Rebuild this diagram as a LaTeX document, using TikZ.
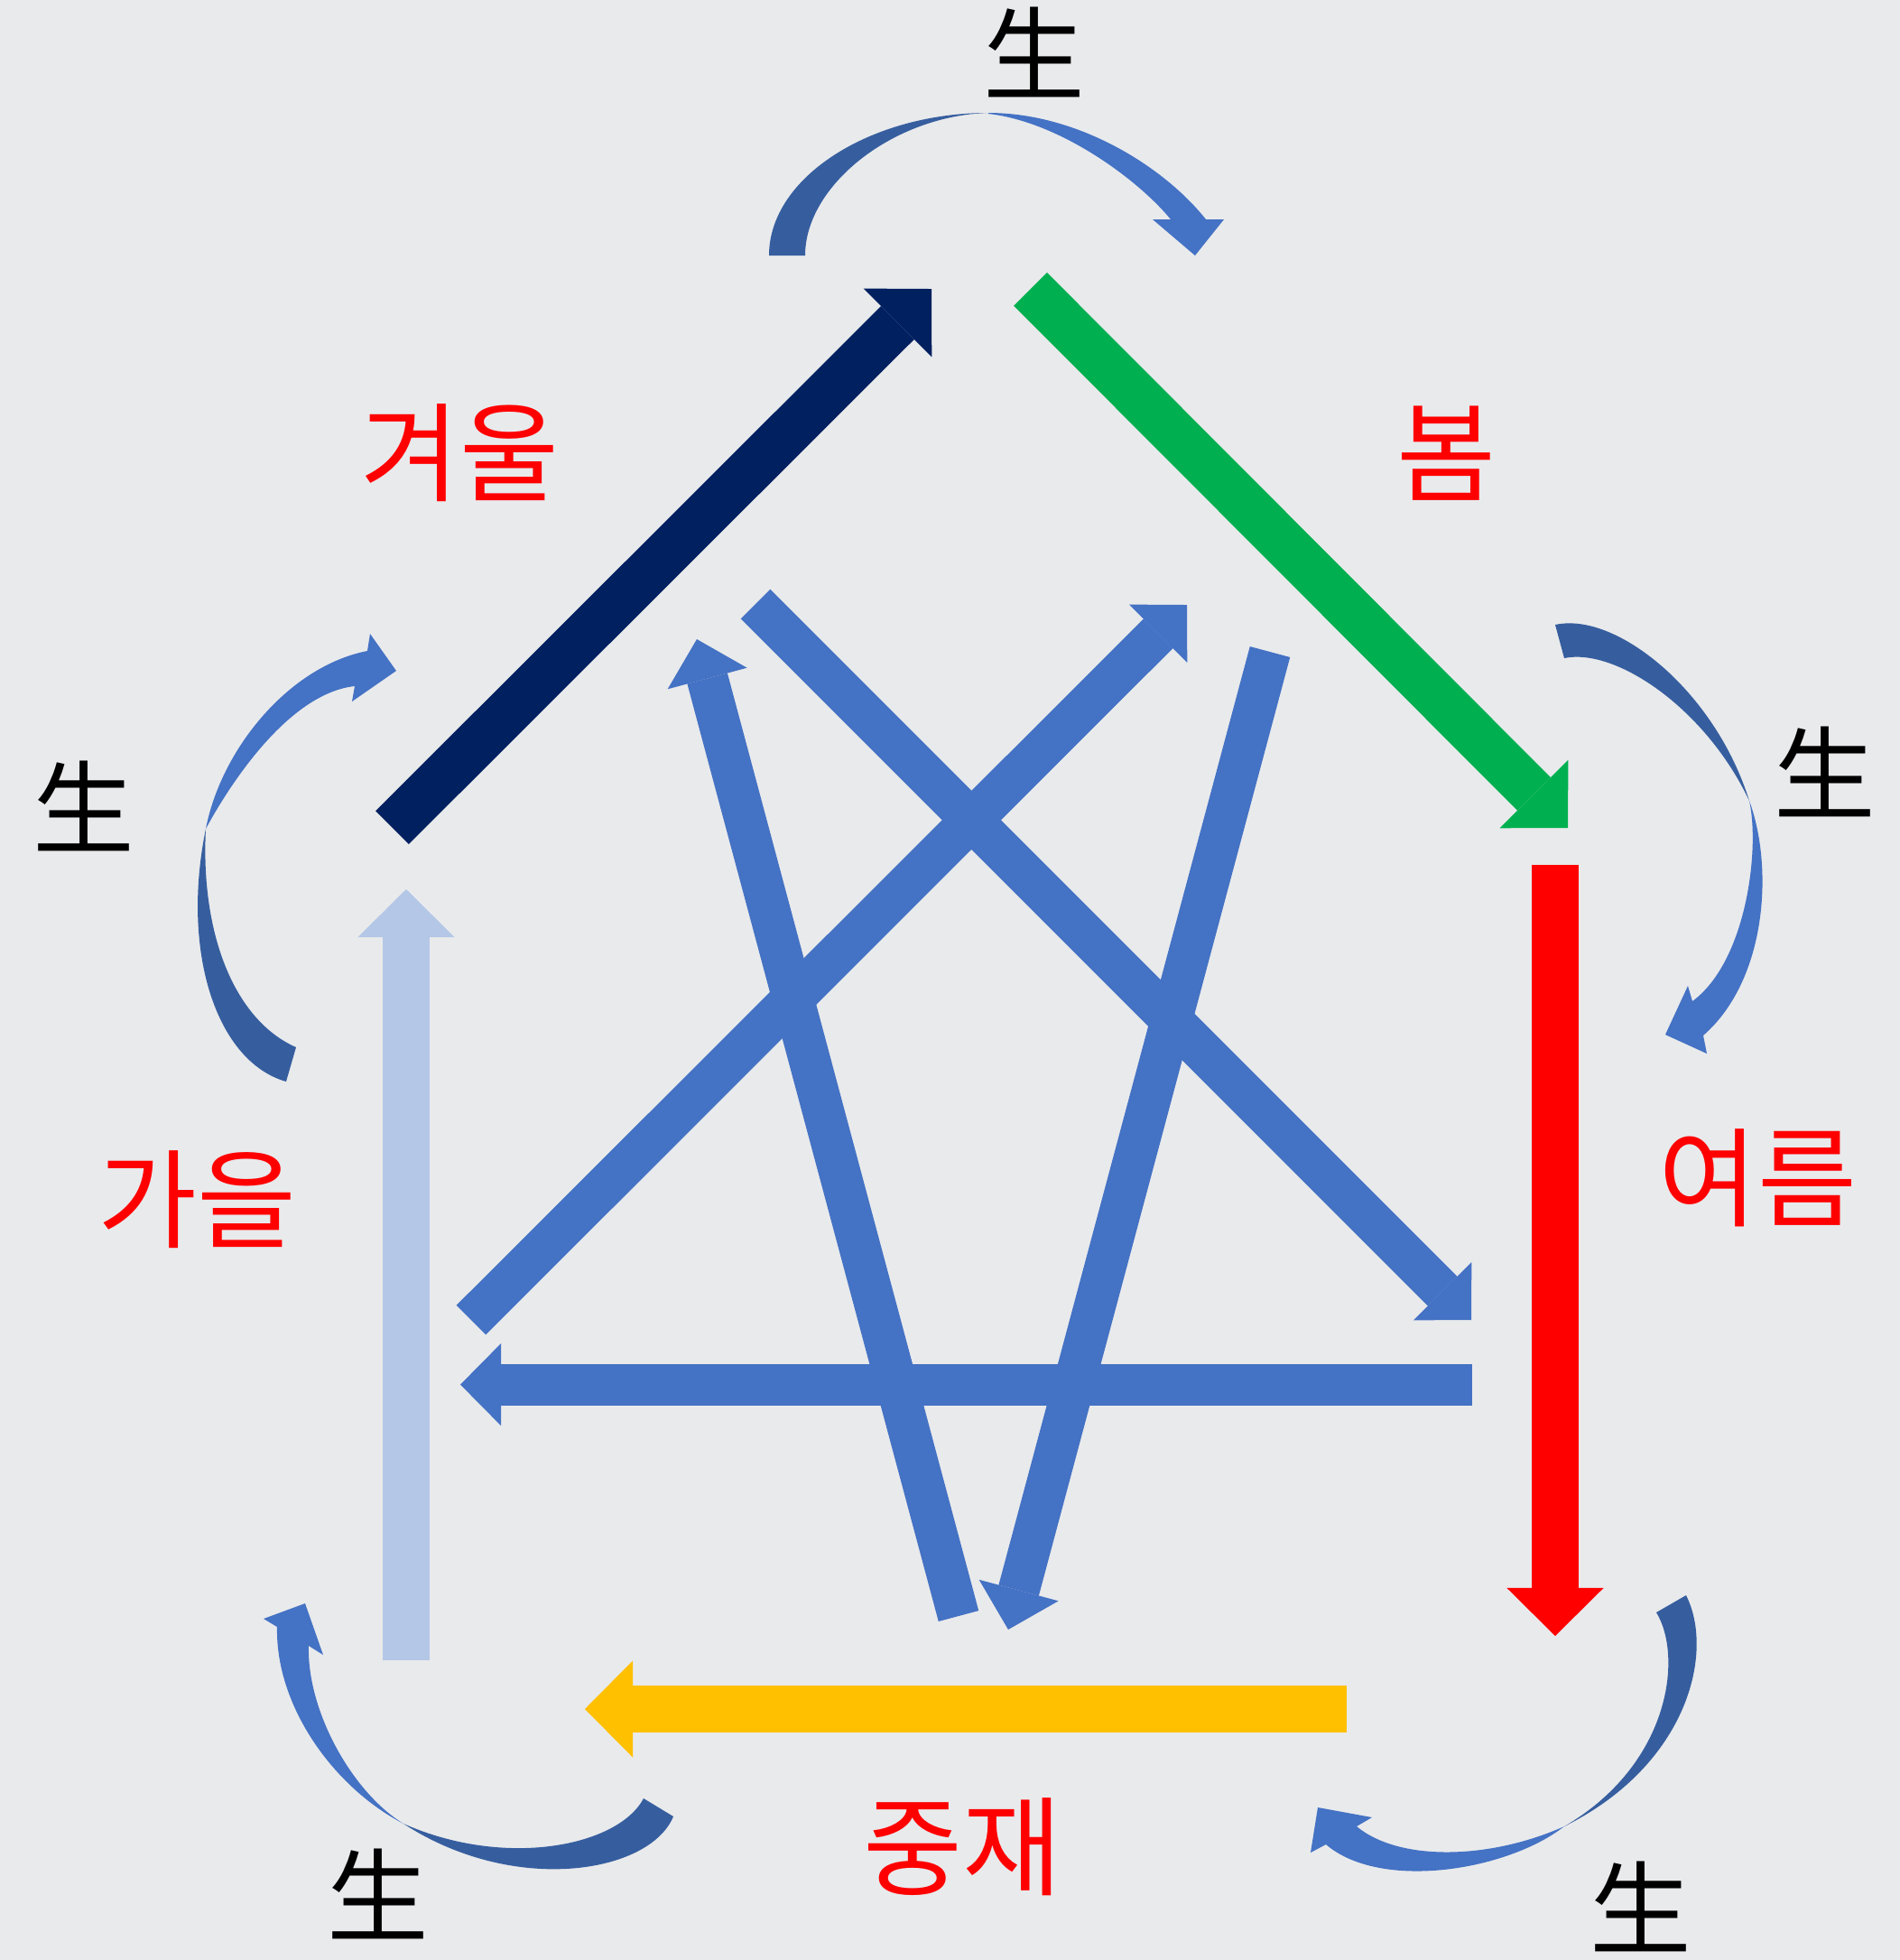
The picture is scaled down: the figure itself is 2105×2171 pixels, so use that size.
\documentclass[tikz,border=0pt]{standalone}
\usepackage{fontspec}
\usepackage{xcolor}
\usetikzlibrary{arrows.meta}
\newfontfamily\krfont{Noto Sans CJK KR}
\newfontfamily\hanfont{Noto Sans CJK SC}
\definecolor{paper}{HTML}{E9EAEC}
\definecolor{wintercolor}{HTML}{002060}
\definecolor{springcolor}{HTML}{00B050}
\definecolor{summercolor}{HTML}{FF0000}
\definecolor{middlecolor}{HTML}{FFC000}
\definecolor{autumncolor}{HTML}{B4C7E7}
\definecolor{restrain}{HTML}{4472C4}
\definecolor{restraindark}{HTML}{365E9F}
\tikzset{
  season/.style={line width=5.2mm, -{Triangle[width=10.7mm,length=5.3mm,line width=0pt]}},
  star/.style={line width=4.6mm, color=restrain, -{Triangle[width=9.1mm,length=4.5mm,line width=0pt]}},
  word/.style={inner sep=0pt, text=summercolor, font=\krfont\fontsize{34}{34}\selectfont},
  sheng/.style={inner sep=0pt, text=black, font=\hanfont\fontsize{32}{32}\selectfont}
}
\begin{document}
\begin{tikzpicture}[x=0.01cm, y=-0.01cm]

\useasboundingbox (0,0) rectangle (2105,2171);
\fill[paper] (0,0) rectangle (2105,2171);

% season arrows
\coordinate (winterA) at (434.5,916.6);
\coordinate (winterB) at (1032,320);
\coordinate (springA) at (1141.6,320.3);
\coordinate (springB) at (1737,917);
\coordinate (summerA) at (1723,958);
\coordinate (summerB) at (1723,1812);
\coordinate (middleA) at (1492,1893);
\coordinate (middleB) at (648,1893);
\coordinate (autumnA) at (450,1839);
\coordinate (autumnB) at (450,985);

\draw[season, color=wintercolor] (winterA) -- (winterB);
\draw[season, color=springcolor] (springA) -- (springB);
\draw[season, color=summercolor] (summerA) -- (summerB);
\draw[season, color=middlecolor] (middleA) -- (middleB);
\draw[season, color=autumncolor] (autumnA) -- (autumnB);

% star arrows
\coordinate (s1) at (1631,1533.6);
\coordinate (s2) at (510,1533.6);
\coordinate (s3) at (522,1462);
\coordinate (s4) at (1315,670);
\coordinate (s5) at (837,669);
\coordinate (s6) at (1630,1462);
\coordinate (s7) at (1062,1790);
\coordinate (s8) at (772,708);
\coordinate (s9) at (1407,722);
\coordinate (s10) at (1117,1805);

\draw[star] (s1) -- (s2);
\draw[star] (s3) -- (s4);
\draw[star] (s5) -- (s6);
\draw[star] (s7) -- (s8);
\draw[star] (s9) -- (s10);

% top curve
\fill[restraindark] (852,283) .. controls (852,196) and (965,125) .. (1095,125)
  .. controls (990,128) and (892,205) .. (892,283) -- cycle;
\fill[restrain] (1095,125) .. controls (1195,125) and (1290,185) .. (1336,243)
  -- (1356,243) -- (1324,283) -- (1277,243) -- (1297,243)
  .. controls (1262,200) and (1175,135) .. (1095,126) -- cycle;

% right curve
\fill[restraindark] (1723,692) .. controls (1790,677) and (1900,765) .. (1938,887)
  .. controls (1890,785) and (1790,717) .. (1733,729) -- cycle;
\fill[restrain] (1938,887) .. controls (1965,960) and (1958,1085) .. (1887,1147)
  -- (1891,1167) -- (1845,1146) -- (1870,1092) -- (1875,1109)
  .. controls (1935,1065) and (1950,940) .. (1938,887) -- cycle;

% bottom right curve
\fill[restraindark] (1868,1767) .. controls (1900,1830) and (1870,1955) .. (1733,2023)
  .. controls (1850,1955) and (1865,1835) .. (1835,1786) -- cycle;
\fill[restrain] (1733,2023) .. controls (1670,2072) and (1530,2095) .. (1469,2043)
  -- (1452,2052) -- (1460,2002) -- (1520,2013) -- (1503,2023)
  .. controls (1550,2062) and (1650,2060) .. (1733,2023) -- cycle;

% bottom left curve
\fill[restraindark] (746,2012) .. controls (720,2075) and (570,2100) .. (447,2020)
  .. controls (560,2070) and (685,2045) .. (713,1992) -- cycle;
\fill[restrain] (447,2020) .. controls (370,1980) and (305,1890) .. (307,1802)
  -- (292,1793) -- (338,1776) -- (358,1833) -- (342,1823)
  .. controls (340,1895) and (390,1985) .. (447,2020) -- cycle;

% left curve
\fill[restraindark] (317,1198) .. controls (240,1176) and (200,1055) .. (228,918)
  .. controls (222,1035) and (260,1130) .. (328,1160) -- cycle;
\fill[restrain] (228,918) .. controls (245,830) and (320,738) .. (407,721)
  -- (410,702) -- (439,743) -- (390,777) -- (393,760)
  .. controls (320,768) and (255,868) .. (228,918) -- cycle;

% labels
\node[sheng] (shengtop) at (1146,58) {生};
\node[sheng] (shengleft) at (93,893) {生};
\node[sheng] (shengright) at (2022,855) {生};
\node[sheng] (shenglowleft) at (419,2098) {生};
\node[sheng] (shenglowright) at (1818,2112) {生};
\node[word] (winter) at (509,502) {겨울};
\node[word] (spring) at (1602,502) {봄};
\node[word] (summer) at (1947,1305) {여름};
\node[word] (autumn) at (218,1329) {가을};
\node[word] (middle) at (1066,2046) {중재};

\end{tikzpicture}
\end{document}
